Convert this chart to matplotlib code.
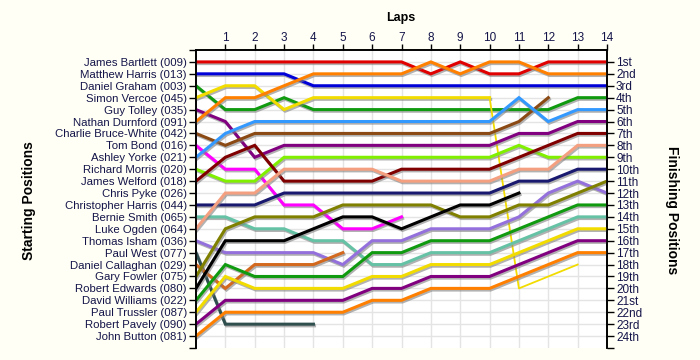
import numpy as np
import matplotlib
matplotlib.use("Agg")
import matplotlib.pyplot as plt
import matplotlib.patheffects as pe

# lap chart data: position of each driver after every lap (lap 0 = grid)
laps = list(range(0, 15))
drivers = ["James Bartlett (009)", "Matthew Harris (013)", "Daniel Graham (003)",
           "Simon Vercoe (045)", "Guy Tolley (035)", "Nathan Durnford (091)",
           "Charlie Bruce-White (042)", "Tom Bond (016)", "Ashley Yorke (021)",
           "Richard Morris (020)", "James Welford (018)", "Chris Pyke (026)",
           "Christopher Harris (044)", "Bernie Smith (065)", "Luke Ogden (064)",
           "Thomas Isham (036)", "Paul West (077)", "Daniel Callaghan (029)",
           "Gary Fowler (075)", "Robert Edwards (080)", "David Williams (022)",
           "Paul Trussler (087)", "Robert Pavely (090)", "John Button (081)"]
N = None
bartlett = [1, 1, 1, 1, 1, 1, 1, 1, 2, 1, 2, 2, 1, 1, 1]
m_harris = [2, 2, 2, 2, 3, 3, 3, 3, 3, 3, 3, 3, 3, 3, 3]
graham = [3, 5, 5, 4, 5, 5, 5, 5, 5, 5, 5, 5, 5, 4, 4]
vercoe = [4, 3, 3, 5, 4, 4, 4, 4, 4, 4, 4, 20, 19, 18, N]
tolley = [5, 6, 9, 8, 8, 8, 8, 8, 8, 8, 8, 7, 7, 6, 6]
durnford = [6, 4, 4, 3, 2, 2, 2, 2, 1, 2, 1, 1, 2, 2, 2]
bruce_white = [7, 8, 7, 7, 7, 7, 7, 7, 7, 7, 7, 6, 4, N, N]
bond = [8, 10, 10, 13, 13, 15, 15, 14, N, N, N, N, N, N, N]
yorke = [9, 7, 6, 6, 6, 6, 6, 6, 6, 6, 6, 4, 6, 5, 5]
morris = [10, 11, 11, 9, 9, 9, 9, 9, 9, 9, 9, 8, 9, 9, 9]
welford = [11, 9, 8, 11, 11, 11, 11, 10, 10, 10, 10, 9, 8, 7, 7]
pyke = [12, N, N, N, N, N, N, N, N, N, N, N, N, N, N]
c_harris = [13, 13, 13, 12, 12, 12, 12, 12, 12, 12, 12, 11, 11, 10, 10]
smith = [14, 14, 15, 15, 16, 16, 18, 18, 17, 17, 17, 16, 15, 14, 14]
ogden = [15, 12, 12, 10, 10, 10, 10, 11, 11, 11, 11, 10, 10, 8, 8]
isham = [16, 17, 17, 17, 17, 18, 16, 16, 15, 15, 15, 14, 12, 11, 12]
west = [17, 23, 23, 23, 23, N, N, N, N, N, N, N, N, N, N]
callaghan = [18, 20, 18, 18, 18, 17, N, N, N, N, N, N, N, N, N]
fowler = [19, 15, 14, 14, 14, 13, 13, 13, 13, 14, 14, 13, 13, 12, 11]
edwards = [20, 16, 16, 16, 15, 14, 14, 15, 14, 13, 13, 12, N, N, N]
williams = [21, 18, 19, 19, 19, 19, 17, 17, 16, 16, 16, 15, 14, 13, 13]
trussler = [22, 19, 20, 20, 20, 20, 19, 19, 18, 18, 18, 17, 16, 15, 15]
pavely = [23, 21, 21, 21, 21, 21, 20, 20, 19, 19, 19, 18, 17, 16, 16]
button = [24, 22, 22, 22, 22, 22, 21, 21, 20, 20, 20, 19, 18, 17, 17]

positions = [bartlett, m_harris, graham, vercoe, tolley, durnford, bruce_white,
             bond, yorke, morris, welford, pyke, c_harris, smith, ogden, isham,
             west, callaghan, fowler, edwards, williams, trussler, pavely, button]
finish_labels = ["1st", "2nd", "3rd", "4th", "5th", "6th", "7th", "8th", "9th",
                 "10th", "11th", "12th", "13th", "14th", "15th", "16th", "17th",
                 "18th", "19th", "20th", "21st", "22nd", "23rd", "24th"]

colors = ["#e00000", "#0000d8", "#109a10", "#f2dc00", "#800080", "#ff8000",
          "#8b4a14", "#ff00ff", "#3399ff", "#80f000", "#800000", "#f4a080",
          "#191970", "#66c2a5", "#f4a080", "#9370db", "#2f4f4f", "#d2691e",
          "#808000", "#000000", "#109a10", "#f2dc00", "#800080", "#ff8000"]

plt.rcParams['font.family'] = ['Liberation Sans', 'DejaVu Sans']
txt_col = "#14144a"

fig = plt.figure(figsize=(7, 3.6), dpi=100, facecolor="#fffff5")
ax = fig.add_axes([196 / 700, 12 / 360, 411 / 700, 298 / 360])
ax.set_facecolor("white")

shadow = [pe.SimpleLineShadow(offset=(0.8, -1.2), shadow_color="#808080", alpha=0.6),
          pe.Normal()]

for i, pos in enumerate(positions):
    y = np.array([np.nan if p is None else p for p in pos], dtype=float)
    if i == 3:
        # Vercoe drops out of contention after lap 10 - drawn thin
        ax.plot(laps[:11], y[:11], color=colors[i], lw=2.2, path_effects=shadow, zorder=3)
        ax.plot(laps[10:], y[10:], color=colors[i], lw=1.3, zorder=3)
    else:
        ax.plot(laps, y, color=colors[i], lw=2.2, path_effects=shadow,
                solid_joinstyle="miter", zorder=3)

ax.set_xlim(0, 14)
ax.set_ylim(25, 0)

ax.xaxis.tick_top()
ax.set_xticks(range(1, 15))
ax.set_xticklabels([str(l) for l in range(1, 15)], color=txt_col, fontsize=8.5)
ax.set_yticks(range(1, 25))
ax.set_yticklabels(drivers, color=txt_col, fontsize=8.2)
ax.set_yticks([0, 25], minor=True)
ax.tick_params(axis="y", which="both", length=5, width=1, pad=1.5)
ax.tick_params(axis="x", which="both", length=4, width=1, pad=0.5)
ax.grid(True, color="#e4e4e4", lw=1, zorder=0)

ax2 = ax.twinx()
ax2.set_ylim(25, 0)
ax2.set_yticks(range(1, 25))
ax2.set_yticklabels(finish_labels, color=txt_col, fontsize=8.5)
ax2.set_yticks([25], minor=True)
ax2.tick_params(axis="y", which="both", length=5, width=1, pad=1.5)

for a in (ax, ax2):
    a.spines["bottom"].set_visible(False)
    for s in ("top", "left", "right"):
        a.spines[s].set_linewidth(1.2)

fig.text(401 / 700, 1 - 18 / 360, "Laps", ha="center", va="center",
         fontsize=9, fontweight="bold")
fig.text(29 / 700, 1 - 201 / 360, "Starting Positions", ha="center", va="center",
         rotation=90, fontsize=10, fontweight="bold")
fig.text(672 / 700, 1 - 210 / 360, "Finishing Positions", ha="center", va="center",
         rotation=270, fontsize=10, fontweight="bold")

fig.savefig("out.png", dpi=100, facecolor=fig.get_facecolor())
